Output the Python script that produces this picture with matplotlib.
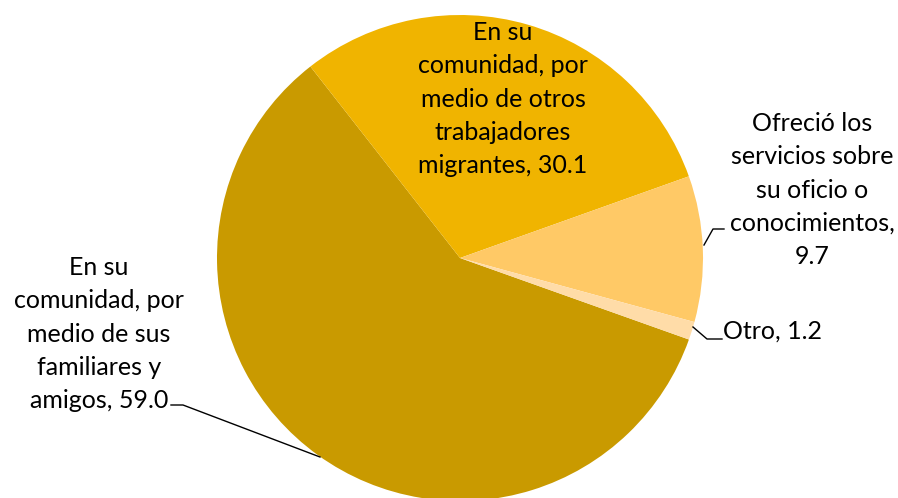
import matplotlib
matplotlib.use("Agg")
import matplotlib.pyplot as plt

# datos (porcentajes)
valores = [59.0, 30.1, 9.7, 1.2]
etiquetas = [
    "En su\ncomunidad, por\nmedio de sus\nfamiliares y\namigos, 59.0",
    "En su\ncomunidad, por\nmedio de otros\ntrabajadores\nmigrantes, 30.1",
    "Ofreció los\nservicios sobre\nsu oficio o\nconocimientos,\n9.7",
    "Otro, 1.2",
]
colores = ["#C99A00", "#F0B400", "#FFC966", "#FFDCA8"]

W, H = 898, 498
fig = plt.figure(figsize=(W / 100, H / 100), dpi=100)
ax = fig.add_axes([0, 0, 1, 1])

cx, cy, r = 460, H - 258, 243
ax.pie(valores, colors=colores, startangle=-19.6, counterclock=False,
       center=(cx, cy), radius=r, frame=True,
       wedgeprops=dict(linewidth=0))
ax.set_xlim(0, W)
ax.set_ylim(0, H)
ax.set_aspect("equal")
ax.axis("off")

fuente = dict(family="Lato", fontsize=18, color="black", linespacing=1.55)

# etiquetas
ax.text(503, H - 99, etiquetas[1], ha="center", va="center", **fuente)
ax.text(812, H - 190, etiquetas[2], ha="center", va="center", **fuente)
ax.text(723, H - 331, etiquetas[3], ha="left", va="center", **fuente)
ax.text(99, H - 334, etiquetas[0], ha="center", va="center", **fuente)

# líneas guía
lc = dict(color="black", linewidth=1.0)
ax.plot([704, 713, 724], [H - 245, H - 229, H - 229], **lc)
ax.plot([693, 707, 722], [H - 327, H - 339, H - 339], **lc)
ax.plot([171, 183, 320], [H - 405, H - 405, H - 457], **lc)

fig.savefig("out.png", dpi=100)
